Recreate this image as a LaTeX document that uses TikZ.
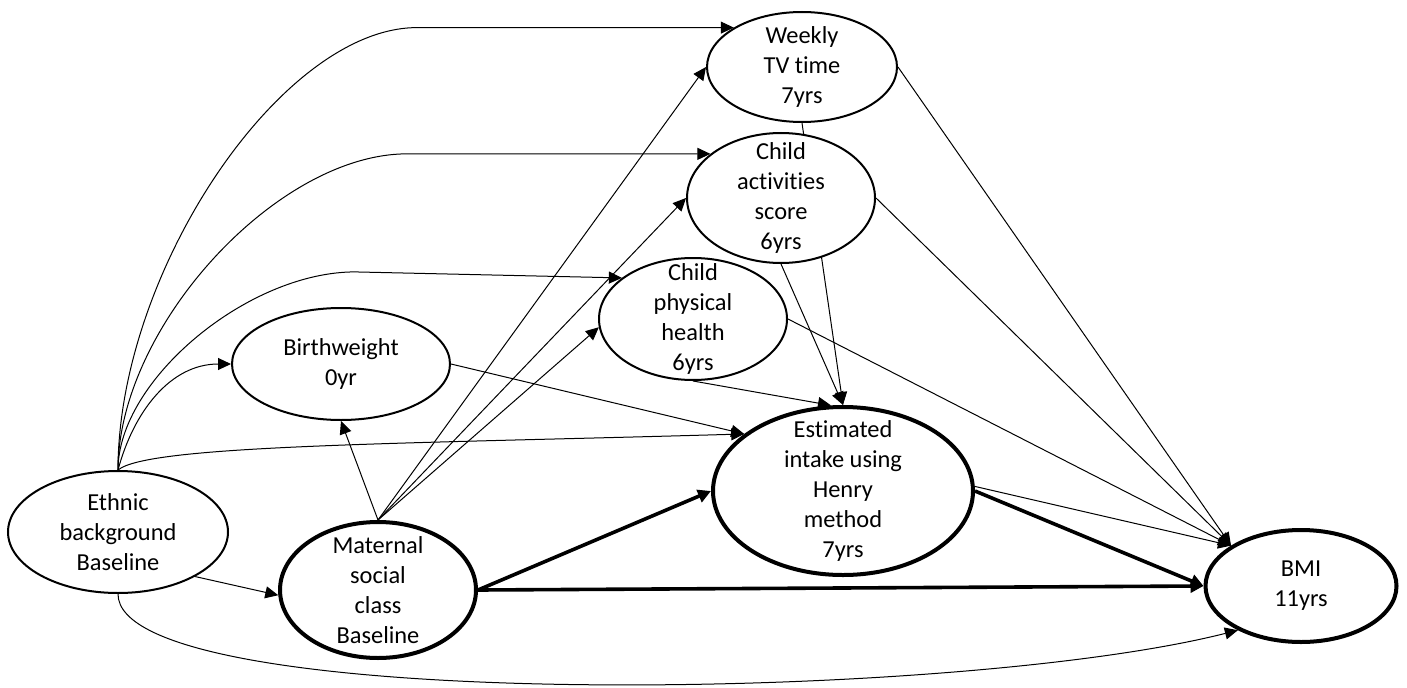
\documentclass[tikz,border=0pt]{standalone}
\usepackage{fontspec}
\setmainfont{Carlito}[Ligatures=NoCommon]
\usetikzlibrary{shapes.geometric, arrows.meta, backgrounds, calc}

\begin{document}
\begin{tikzpicture}[x=0.5pt, y=0.5pt,
    var/.style={ellipse, draw, line width=1pt, fill=white, inner sep=-12pt,
      align=center, font=\fontsize{12.2pt}{15pt}\selectfont},
    keyvar/.style={var, line width=2pt},
    link/.style={line width=0.5pt, -{Triangle[length=6.5pt, width=6pt]}},
    keylink/.style={line width=1.8pt, -{Triangle[length=6.5pt, width=6.5pt]}}]
      \useasboundingbox (0,0) rectangle (1407,687);
      %
      \node[var, minimum width=110pt, minimum height=61pt] (eth) at (118,155) {Ethnic\\background\\Baseline};
      \node[keyvar, minimum width=98pt, minimum height=68pt] (mat) at (378,97) {Maternal\\social\\class\\Baseline};
      \node[var, minimum width=109pt, minimum height=56pt] (bw) at (341,323) {Birthweight\\0yr};
      %
      \node[var, minimum width=95pt, minimum height=55pt] (tv) at (802,620) {Weekly\\TV time\\7yrs};
      \node[var, minimum width=94pt, minimum height=65pt] (act) at (781,489) {Child\\activities\\score\\6yrs};
      \node[var, minimum width=94pt, minimum height=61pt] (phy) at (693,368) {Child\\physical\\health\\6yrs};
      %
      \node[keyvar, minimum width=130pt, minimum height=84pt] (est) at (843,196) {Estimated\\intake using\\Henry\\method\\7yrs};
      \node[keyvar, minimum width=95.5pt, minimum height=56pt] (bmi) at (1301,101) {BMI\\11yrs};
      %
      \begin{scope}[on background layer]
      % from ethnic background
      \draw[link] (eth.north) .. controls +(0,199) and +(-135,0) .. (417,0 |- tv.150) -- (tv.150);
      \draw[link] (eth.north) .. controls +(0,143) and +(-130,0) .. (407,0 |- act.148) -- (act.148);
      \draw[link] (eth.north) .. controls +(0,90) and +(-107,0) .. ($(355,0 |- phy.150)+(0,6)$) -- (phy.150);
      \draw[link] (eth.north) to[out=75, in=180] (bw.west);
      \draw[link] (eth.north) .. controls +(30,25) and +(-350,-10) .. (est.150);
      \draw[link] (eth.-30) -- (mat.183);
      \draw[link] (eth.south) .. controls +(0,-119) and +(-288,-73) .. (bmi.215);
      % from maternal social class
      \draw[link] (mat.north) -- (bw.south);
      \draw[link] (mat.north) -- (tv.west);
      \draw[link] (mat.north) -- (act.west);
      \draw[link] (mat.north) -- (phy.185);
      \draw[keylink] (mat.east) -- (est.west);
      \draw[keylink] (mat.east) -- (bmi.west);
      % into estimated intake
      \draw[link] (bw.east) -- (est.150);
      \draw[link] (phy.south) -- (est.98);
      \draw[link] (act.south) -- (est.north);
      \draw[link] (tv.south) -- (est.north);   % runs behind act
      % into BMI
      \draw[link] (tv.east) -- (bmi.150);
      \draw[link] (act.east) -- (bmi.150);
      \draw[link] (phy.east) -- (bmi.150);
      \draw[link] (est.2) -- (bmi.150);
      \draw[keylink] (est.east) -- (bmi.west);
      \end{scope}
      %
    \end{tikzpicture}
\end{document}
